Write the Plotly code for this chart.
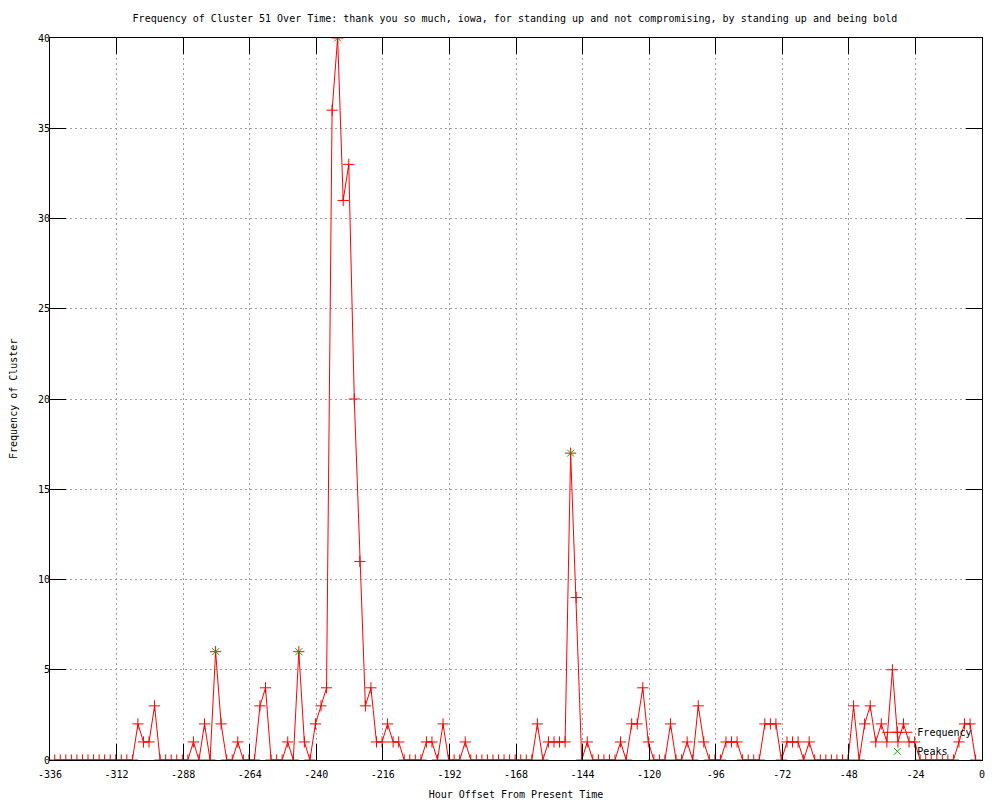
import plotly.graph_objects as go

# Hour offsets of each sample (every 2 hours)
hours = [-334.3 + 2 * i for i in range(167)]

frequency = [
    0, 0, 0, 0, 0, 0, 0, 0, 0, 0,
    0, 0, 0, 0, 0, 2, 1, 1, 3, 0,
    0, 0, 0, 0, 0, 1, 0, 2, 0, 6,
    2, 0, 0, 1, 0, 0, 0, 3, 4, 0,
    0, 0, 1, 0, 6, 1, 0, 2, 3, 4,
    36, 40, 31, 33, 20, 11, 3, 4, 1, 1,
    2, 1, 1, 0, 0, 0, 0, 1, 1, 0,
    2, 0, 0, 0, 1, 0, 0, 0, 0, 0,
    0, 0, 0, 0, 0, 0, 0, 2, 0, 1,
    1, 1, 1, 17, 9, 0, 1, 0, 0, 0,
    0, 0, 1, 0, 2, 2, 4, 1, 0, 0,
    0, 2, 0, 0, 1, 0, 3, 1, 0, 0,
    0, 1, 1, 1, 0, 0, 0, 0, 2, 2,
    2, 0, 1, 1, 1, 0, 1, 0, 0, 0,
    0, 0, 0, 0, 3, 0, 2, 3, 1, 2,
    1, 5, 1, 2, 1, 1, 0, 0, 0, 0,
    0, 0, 0, 1, 2, 2, 0,
]

peak_index = [29, 44, 51, 93]
peak_hours = [hours[i] for i in peak_index]
peak_values = [frequency[i] for i in peak_index]

x_ticks = [-336, -312, -288, -264, -240, -216, -192, -168, -144, -120, -96, -72, -48, -24, 0]
y_ticks = [0, 5, 10, 15, 20, 25, 30, 35, 40]

FONT = "DejaVu Sans Mono"

fig = go.Figure()
fig.add_trace(go.Scatter(
    x=hours, y=frequency, name="Frequency", mode="lines+markers",
    line=dict(color="#ff0000", width=1),
    marker=dict(symbol="cross-thin-open", size=8, color="#ff0000",
                line=dict(color="#ff0000", width=1)),
))
fig.add_trace(go.Scatter(
    x=peak_hours, y=peak_values, name="Peaks", mode="markers",
    marker=dict(symbol="x-thin-open", size=7, color="#00b000",
                line=dict(color="#00b000", width=1)),
))

axis_common = dict(
    showline=True, linecolor="black", linewidth=1, mirror="ticks",
    ticks="inside", ticklen=16, tickcolor="black", tickwidth=1,
    showgrid=True, gridcolor="#a0a0a0", griddash="2px,3px", gridwidth=1,
    zeroline=False, tickfont=dict(family=FONT, size=10, color="black"),
    automargin=False,
)

# The page body adds an 8px margin, so the figure is 8px smaller
fig.update_layout(
    width=992, height=792,
    paper_bgcolor="white", plot_bgcolor="white",
    margin=dict(l=42, r=18, t=30, b=40),
    font=dict(family=FONT, size=10, color="black"),
    title=dict(
        text="Frequency of Cluster 51 Over Time: thank you so much, iowa, for standing up and not compromising, by standing up and being bold",
        x=0.511, xanchor="center", y=0.987, yanchor="middle",
        font=dict(family=FONT, size=10, color="black"),
    ),
    xaxis=dict(
        range=[-336, 0], tickvals=x_ticks, ticktext=[str(v) for v in x_ticks],
        ticklabelstandoff=5,
        title=dict(text="Hour Offset From Present Time", standoff=12,
                   font=dict(family=FONT, size=10)),
        **axis_common,
    ),
    yaxis=dict(
        range=[0, 40], tickvals=y_ticks, ticktext=[str(v) for v in y_ticks],
        ticklabelstandoff=-3,
        **axis_common,
    ),
    annotations=[dict(
        text="Frequency of Cluster", textangle=-90,
        xref="paper", yref="paper", x=-0.0397, y=0.5,
        xanchor="center", yanchor="middle", showarrow=False,
        font=dict(family=FONT, size=10, color="black"),
    )],
    legend=dict(
        x=0.995, xanchor="right", y=-0.008, yanchor="bottom",
        bgcolor="rgba(0,0,0,0)", borderwidth=0,
        font=dict(family=FONT, size=10, color="black"),
        tracegroupgap=0, itemsizing="trace",
    ),
    showlegend=True,
)

fig.write_html("out.html")
